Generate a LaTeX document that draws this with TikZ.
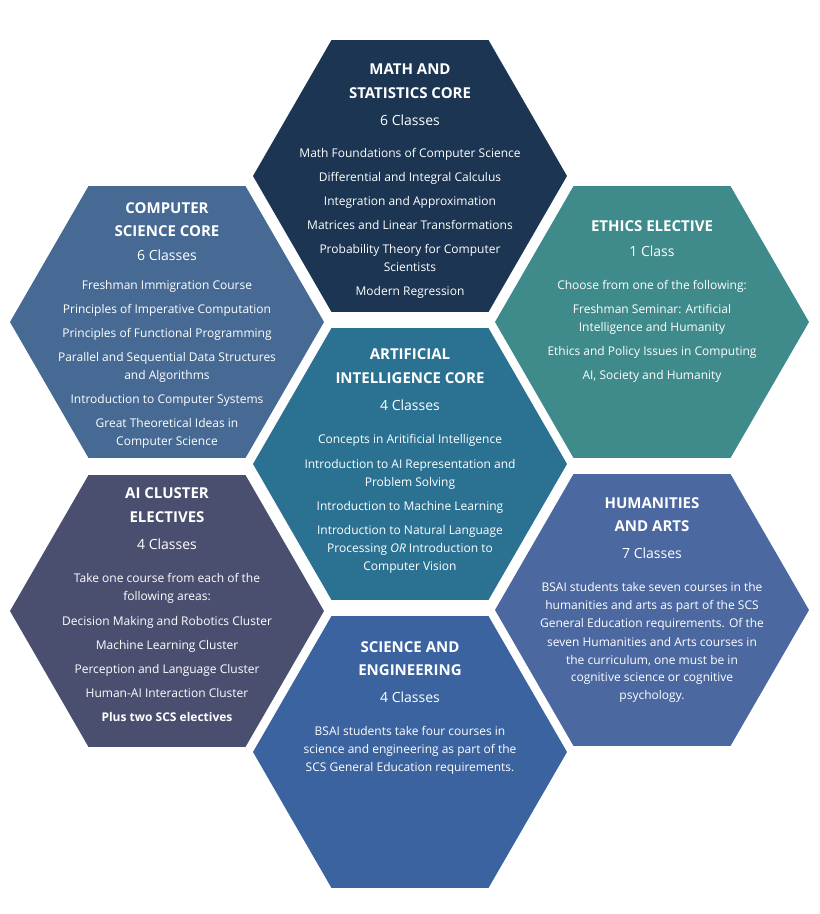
\documentclass[tikz,border=0pt]{standalone}
\usepackage{fontspec}
\setmainfont{Open Sans}
\usetikzlibrary{shapes.geometric}

\definecolor{navy}{HTML}{1B3553}
\definecolor{csblue}{HTML}{466A93}
\definecolor{ethteal}{HTML}{3F8A8B}
\definecolor{aiteal}{HTML}{2B7292}
\definecolor{slate}{HTML}{4A4F70}
\definecolor{humblue}{HTML}{4B68A1}
\definecolor{sciblue}{HTML}{3A63A0}

\tikzset{
  hexcell/.style={regular polygon, regular polygon sides=6,
    minimum size=314pt, inner sep=0pt, fill=#1},
  hextext/.style={text=white, align=center, inner sep=0pt,
    font=\fontsize{12}{18}\selectfont}
}
\newcommand{\htitle}[1]{{\fontsize{15}{18}\selectfont\bfseries #1}}
\newcommand{\hcls}[1]{{\fontsize{14}{18}\selectfont #1}}

\begin{document}
\begin{tikzpicture}[x=1pt,y=-1pt]
  \useasboundingbox (0,0) rectangle (820,914);

  % the seven cells
  \node[hexcell=navy]    (math) at (410,176) {};
  \node[hexcell=csblue]  (cs)   at (167,322) {};
  \node[hexcell=ethteal] (eth)  at (652,322) {};
  \node[hexcell=aiteal]  (ai)   at (410,464) {};
  \node[hexcell=slate]   (clu)  at (167,611) {};
  \node[hexcell=humblue] (hum)  at (652,610) {};
  \node[hexcell=sciblue] (sci)  at (410,752) {};

  % texts
  \node[hextext] (mathtxt) at ([yshift=-5pt]math.center) {%
    \htitle{MATH AND}\\[6pt]\htitle{STATISTICS CORE}\\[9pt]
    \hcls{6 Classes}\\[14pt]
    Math Foundations of Computer Science\\[6pt]
    Differential and Integral Calculus\\[6pt]
    Integration and Approximation\\[6pt]
    Matrices and Linear Transformations\\[6pt]
    Probability Theory for Computer\\Scientists\\[6pt]
    Modern Regression};
  \node[hextext] (cstxt) at ([yshift=-3pt]cs.center) {%
    \htitle{COMPUTER}\\[5pt]\htitle{SCIENCE CORE}\\[6pt]
    \hcls{6 Classes}\\[11pt]
    Freshman Immigration Course\\[6pt]
    Principles of Imperative Computation\\[6pt]
    Principles of Functional Programming\\[6pt]
    Parallel and Sequential Data Structures\\and Algorithms\\[6pt]
    Introduction to Computer Systems\\[6pt]
    Great Theoretical Ideas in\\Computer Science};
  \node[hextext] (ethtxt) at ([yshift=20pt]eth.center) {%
    \htitle{ETHICS ELECTIVE}\\[7pt]
    \hcls{1 Class}\\[15pt]
    Choose from one of the following:\\[6pt]
    Freshman Seminar: Artificial\\Intelligence and Humanity\\[6pt]
    Ethics and Policy Issues in Computing\\[6pt]
    AI, Society and Humanity};
  \node[hextext] (aitxt) at ([yshift=3pt]ai.center) {%
    \htitle{ARTIFICIAL}\\[6pt]\htitle{INTELLIGENCE CORE}\\[9pt]
    \hcls{4 Classes}\\[15pt]
    Concepts in Aritificial Intelligence\\[7pt]
    Introduction to AI Representation and\\Problem Solving\\[6pt]
    Introduction to Machine Learning\\[6pt]
    Introduction to Natural Language\\Processing \textit{OR} Introduction to\\Computer Vision};
  \node[hextext] (clutxt) at ([yshift=6pt]clu.center) {%
    \htitle{AI CLUSTER}\\[6pt]\htitle{ELECTIVES}\\[9pt]
    \hcls{4 Classes}\\[15pt]
    Take one course from each of the\\following areas:\\[7pt]
    Decision Making and Robotics Cluster\\[6pt]
    Machine Learning Cluster\\[6pt]
    Perception and Language Cluster\\[6pt]
    Human-AI Interaction Cluster\\[6pt]
    \textbf{Plus two SCS electives}};
  \node[hextext] (humtxt) at ([yshift=10pt]hum.center) {%
    \htitle{HUMANITIES}\\[5pt]\htitle{AND ARTS}\\[9pt]
    \hcls{7 Classes}\\[16pt]
    BSAI students take seven courses in the\\
    humanities and arts as part of the SCS\\
    General Education requirements. Of the\\
    seven Humanities and Arts courses in\\
    the curriculum, one must be in\\
    cognitive science or cognitive\\
    psychology.};
  \node[hextext] (scitxt) at ([yshift=44pt]sci.center) {%
    \htitle{SCIENCE AND}\\[5pt]\htitle{ENGINEERING}\\[9pt]
    \hcls{4 Classes}\\[15pt]
    BSAI students take four courses in\\
    science and engineering as part of the\\
    SCS General Education requirements.};
\end{tikzpicture}
\end{document}
